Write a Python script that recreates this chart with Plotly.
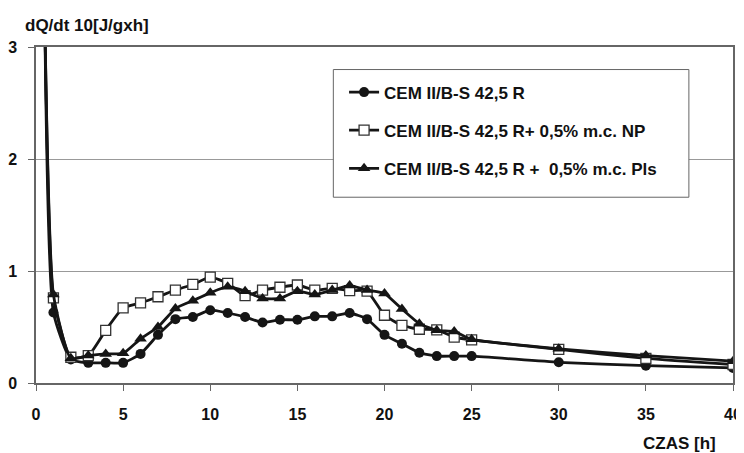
import plotly.graph_objects as go

czas = [0.5, 1, 2, 3, 4, 5, 6, 7, 8, 9, 10, 11, 12, 13, 14, 15, 16, 17, 18, 19,
        20, 21, 22, 23, 24, 25, 30, 35, 40]

cem = [3.3, 0.63, 0.21, 0.18, 0.18, 0.18, 0.26, 0.43, 0.57, 0.59, 0.65, 0.625,
       0.59, 0.54, 0.565, 0.565, 0.595, 0.595, 0.625, 0.57, 0.43, 0.35, 0.27,
       0.24, 0.24, 0.24, 0.185, 0.155, 0.135]

cem_np = [3.3, 0.76, 0.23, 0.245, 0.47, 0.67, 0.715, 0.77, 0.83, 0.88, 0.945,
          0.89, 0.78, 0.83, 0.855, 0.875, 0.83, 0.845, 0.825, 0.82, 0.605,
          0.515, 0.48, 0.475, 0.41, 0.385, 0.3, 0.22, 0.165]

cem_pls = [3.3, 0.79, 0.22, 0.245, 0.26, 0.265, 0.395, 0.5, 0.665, 0.735,
           0.805, 0.86, 0.82, 0.755, 0.755, 0.82, 0.79, 0.83, 0.87, 0.83, 0.8,
           0.66, 0.53, 0.47, 0.46, 0.39, 0.305, 0.245, 0.195]

names = ["CEM II/B-S 42,5 R",
         "CEM II/B-S 42,5 R+ 0,5% m.c. NP",
         "CEM II/B-S 42,5 R +  0,5% m.c. Pls"]

x_ticks = [0, 5, 10, 15, 20, 25, 30, 35, 40]
y_ticks = [0, 1, 2, 3]

FONT = "Arial, Liberation Sans, Helvetica, sans-serif"
LINE = "#151515"
TXT = dict(family=FONT, size=16, color="#111111", weight="bold")
TITLE = dict(family=FONT, size=17, color="#111111", weight="bold")
LEG = dict(family=FONT, size=17, color="#111111", weight="bold")

fig = go.Figure()
fig.add_trace(go.Scatter(
    x=czas, y=cem, name=names[0], mode="lines+markers", legendgroup="a",
    line=dict(color=LINE, width=2.8, shape="spline", smoothing=0.5),
    marker=dict(symbol="circle", size=10, color=LINE)))
fig.add_trace(go.Scatter(
    x=czas, y=cem_np, name=names[1], mode="lines+markers", legendgroup="b",
    line=dict(color=LINE, width=2.8, shape="spline", smoothing=0.5),
    marker=dict(symbol="square", size=10, color="white",
                line=dict(color="#333333", width=1.3))))
fig.add_trace(go.Scatter(
    x=czas, y=cem_pls, name=names[2], mode="lines+markers", legendgroup="c",
    line=dict(color=LINE, width=2.8, shape="spline", smoothing=0.5),
    marker=dict(symbol="triangle-up", size=11, color=LINE)))

# legend frame
fig.add_shape(type="rect", xref="paper", yref="paper",
              x0=0.4266, x1=0.9367, y0=0.5529, y1=0.9329,
              line=dict(color="#666666", width=1), fillcolor="white",
              layer="above")

fig.add_annotation(text="dQ/dt 10[J/gxh]", xref="paper", yref="paper",
                   x=-0.018, y=1.064, xanchor="left", yanchor="middle",
                   showarrow=False, font=TITLE)
fig.add_annotation(text="CZAS [h]", xref="paper", yref="paper",
                   x=0.978, y=-0.18, xanchor="right", yanchor="middle",
                   showarrow=False, font=TITLE)

# page has an 8px body margin: figure is shifted, so margins compensate
fig.update_layout(
    width=736, height=445,
    margin=dict(l=27.5, r=10.5, t=38.7, b=69.5, autoexpand=False),
    paper_bgcolor="white", plot_bgcolor="white",
    font=TXT,
    showlegend=True,
    legend=dict(x=0.442, y=0.918, xanchor="left", yanchor="top",
                bgcolor="rgba(0,0,0,0)", borderwidth=0,
                traceorder="grouped", tracegroupgap=13,
                font=LEG),
    xaxis=dict(range=[0, 40], tickvals=x_ticks, automargin=False,
               showgrid=False, zeroline=False, showline=True,
               linecolor="#666666", linewidth=1.5, mirror=True,
               ticks="outside", ticklen=6, tickcolor="#666666",
               ticklabelstandoff=10, tickfont=TXT),
    yaxis=dict(range=[0, 3], tickvals=y_ticks, automargin=False,
               showgrid=True, gridcolor="#999999", gridwidth=1,
               zeroline=False, showline=True,
               linecolor="#666666", linewidth=1.5, mirror=True,
               ticks="outside", ticklen=6, tickcolor="#666666",
               ticklabelstandoff=8, tickfont=TXT),
)

fig.write_html("out.html")
